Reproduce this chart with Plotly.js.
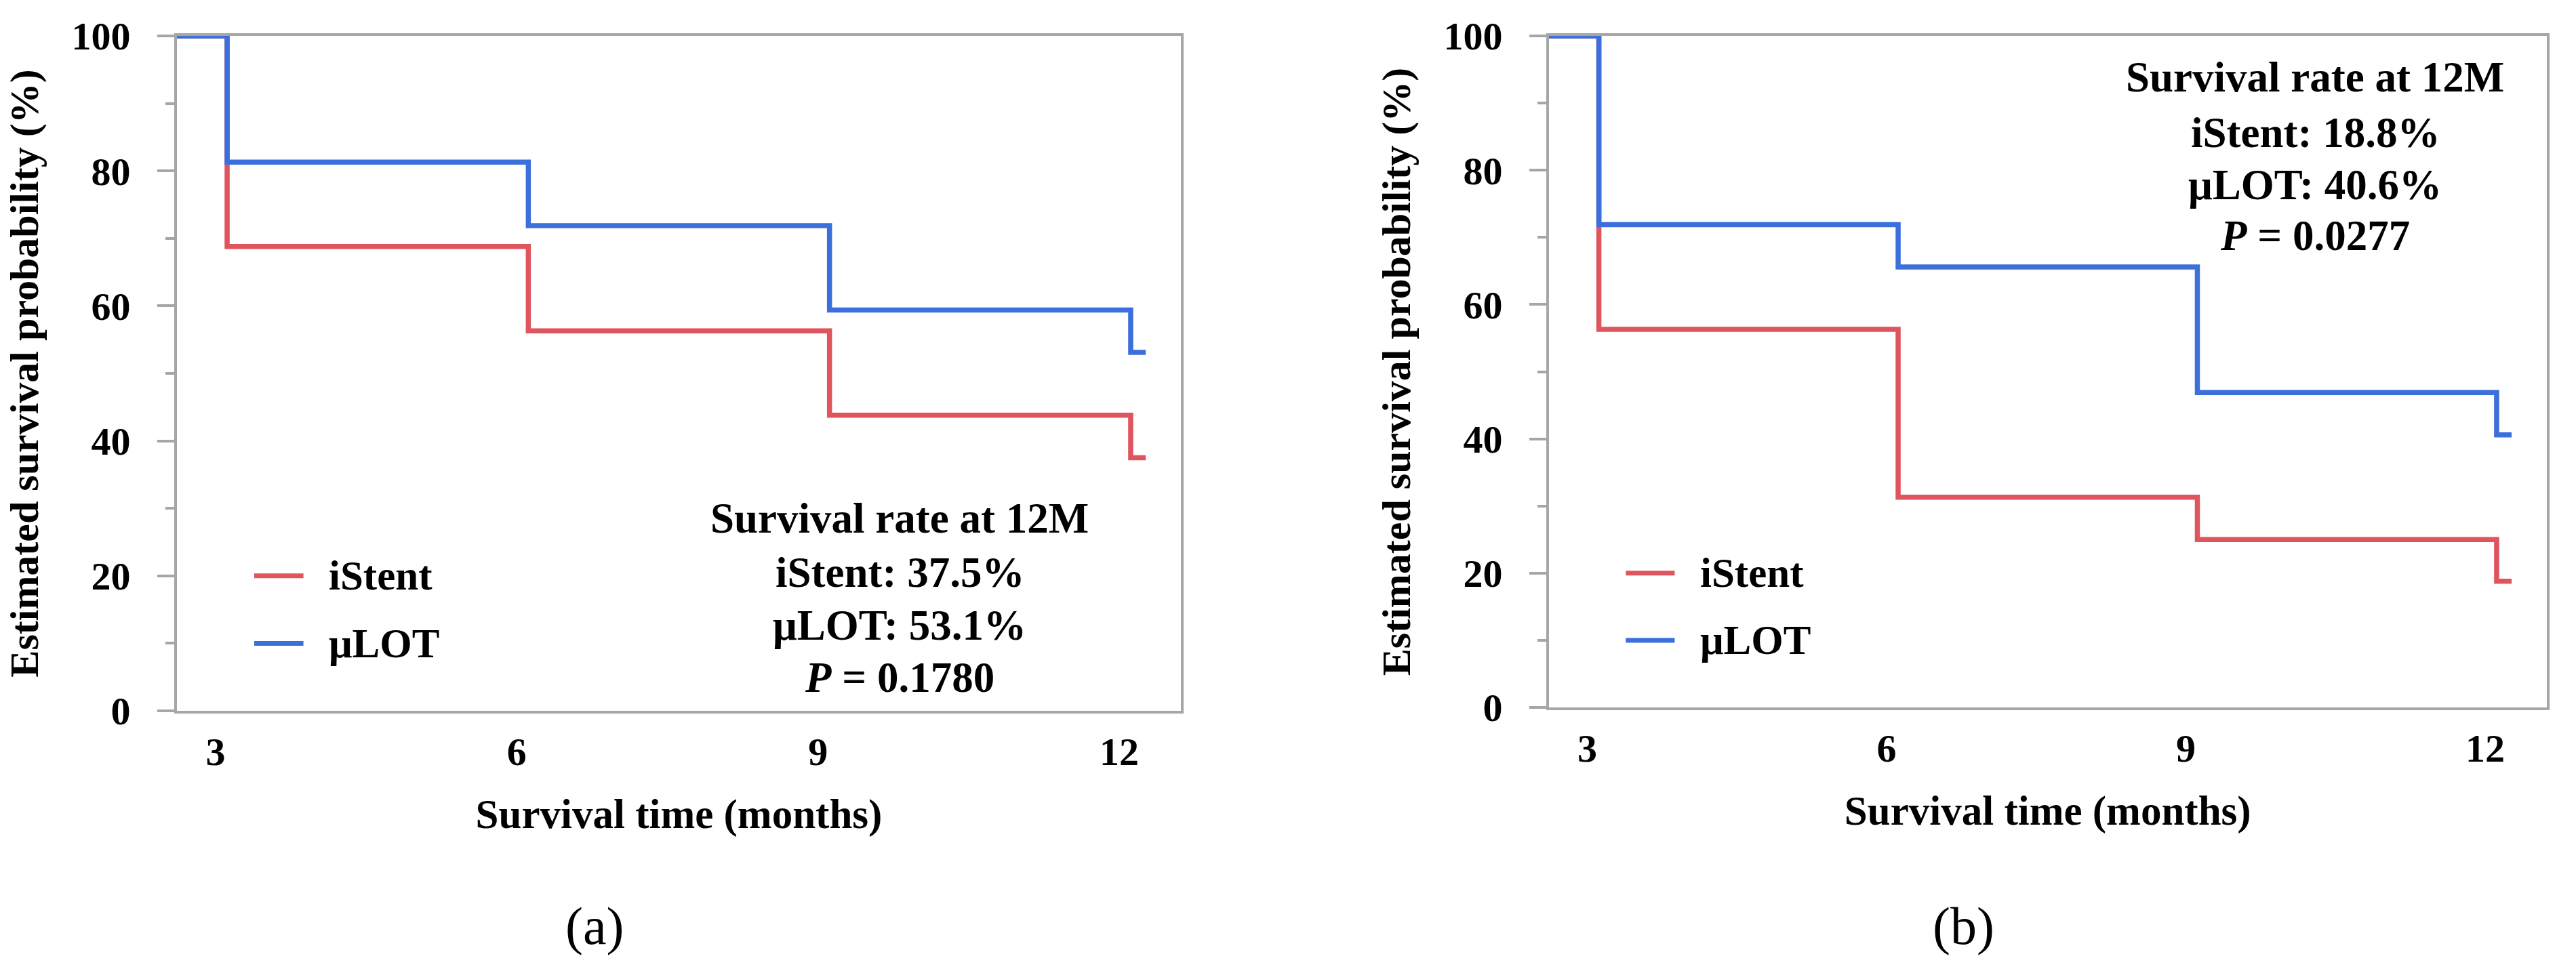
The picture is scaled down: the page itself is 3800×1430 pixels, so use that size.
<!DOCTYPE html>
<html>
<head>
<meta charset="utf-8">
<script src="https://cdn.plot.ly/plotly-3.0.1.min.js"></script>
<style>html,body{margin:0;padding:0;background:#fff;}#chart{width:3800px;height:1430px;}</style>
</head>
<body>
<div id="chart"></div>
<script>
// ---- data (Kaplan-Meier estimates, %) ----
const months = [0, 3, 6, 9, 12, 12.15];
const istentA = [100, 68.8, 56.3, 43.8, 37.5, 37.5];
const mlotA   = [100, 81.3, 71.9, 59.4, 53.1, 53.1];
const istentB = [100, 56.3, 31.3, 25.0, 18.8, 18.8];
const mlotB   = [100, 71.9, 65.6, 46.9, 40.6, 40.6];
const seriesNames = ['iStent', 'μLOT'];
const xTicks = [3, 6, 9, 12];
const yTicks = [0, 20, 40, 60, 80, 100];
const statsA = ['Survival rate at 12M', 'iStent: 37.5%', 'μLOT: 53.1%', '<i>P</i> = 0.1780'];
const statsB = ['Survival rate at 12M', 'iStent: 18.8%', 'μLOT: 40.6%', '<i>P</i> = 0.0277'];
const panelLabels = ['(a)', '(b)'];
const xTitle = 'Survival time (months)';
const yTitle = 'Estimated survival probability (%)';

// ---- style ----
const RED = '#E0545E', BLUE = '#3B6FDC', GRAY = '#A6A6A6';
const SERIF = 'Liberation Serif, Times New Roman, serif';
const W = 3800, H = 1430;

function trace(y, color, xa, ya) {
  return {x: months, y: y, type: 'scatter', mode: 'lines', line: {shape: 'hv', color: color, width: 7.5},
          xaxis: xa, yaxis: ya, showlegend: false, hoverinfo: 'skip'};
}
const data = [
  trace(istentA, RED, 'x', 'y'), trace(mlotA, BLUE, 'x', 'y'),
  trace(istentB, RED, 'x2', 'y2'), trace(mlotB, BLUE, 'x2', 'y2')
];

function xaxis(domain, anchor) {
  return {domain: domain, anchor: anchor, range: [2.5, 12.5], tickvals: xTicks, ticktext: xTicks.map(String),
    ticks: '', showgrid: false, zeroline: false, showline: true, mirror: true, linecolor: GRAY, linewidth: 4,
    layer: 'below traces', ticklabelstandoff: 6, ticklabelshift: -17,
    tickfont: {family: SERIF, size: 58, color: '#000', weight: 'bold'},
    title: {text: xTitle, font: {family: SERIF, size: 61, color: '#000', weight: 'bold'}, standoff: 40}};
}
function yaxis(domain, anchor) {
  return {domain: domain, anchor: anchor, range: [0, 100], tickvals: yTicks,
    ticks: 'outside', ticklen: 25, tickwidth: 4, tickcolor: GRAY,
    minor: {dtick: 10, ticks: 'outside', ticklen: 13, tickwidth: 4, tickcolor: GRAY},
    showgrid: false, zeroline: false, showline: true, mirror: true, linecolor: GRAY, linewidth: 4,
    layer: 'below traces', ticklabelstandoff: 28,
    tickfont: {family: SERIF, size: 58, color: '#000', weight: 'bold'},
    title: {text: yTitle, font: {family: SERIF, size: 60, color: '#000', weight: 'bold'}, standoff: 30}};
}

const dA = [261 / W, 1742 / W], dB = [2285 / W, 3756.5 / W];
const yA = [(H - 1049) / H, (H - 53) / H], yB = [(H - 1044) / H, (H - 53) / H];

const shapes = [], annotations = [];
[['x', 'y'], ['x2', 'y2']].forEach(([xr, yr]) => {
  [[RED, 20], [BLUE, 10]].forEach(([c, yv], i) => {
    shapes.push({type: 'line', xref: xr, yref: yr, x0: 3.27, x1: 3.76, y0: yv, y1: yv, line: {color: c, width: 7}});
    annotations.push({xref: xr, yref: yr, x: 4.0, y: yv, xanchor: 'left', yanchor: 'middle', showarrow: false,
      text: seriesNames[i], font: {family: SERIF, size: 61, color: '#000', weight: 'bold'}});
  });
});
const statYA = [28.5, 20.5, 12.7, 4.9];
statsA.forEach((t, i) => annotations.push({xref: 'x', yref: 'y', x: 9.70, y: statYA[i], xanchor: 'center', yanchor: 'middle',
  showarrow: false, text: t, font: {family: SERIF, size: 63, color: '#000', weight: 'bold'}}));
const statYB = [93.8, 85.6, 77.8, 70.2];
statsB.forEach((t, i) => annotations.push({xref: 'x2', yref: 'y2', x: 10.18, y: statYB[i], xanchor: 'center', yanchor: 'middle',
  showarrow: false, text: t, font: {family: SERIF, size: 63, color: '#000', weight: 'bold'}}));
[[877, panelLabels[0]], [2896, panelLabels[1]]].forEach(([px, t]) => annotations.push({xref: 'paper', yref: 'paper',
  x: px / W, y: (H - 1366) / H, xanchor: 'center', yanchor: 'middle', showarrow: false, text: t,
  font: {family: SERIF, size: 78, color: '#000'}}));

const layout = {
  width: W, height: H, margin: {l: 0, r: 0, t: 0, b: 0}, paper_bgcolor: '#fff', plot_bgcolor: '#fff',
  showlegend: false,
  xaxis: xaxis(dA, 'y'), yaxis: yaxis(yA, 'x'),
  xaxis2: xaxis(dB, 'y2'), yaxis2: yaxis(yB, 'x2'),
  shapes: shapes, annotations: annotations
};
Plotly.newPlot('chart', data, layout, {staticPlot: true});
</script>
</body>
</html>
